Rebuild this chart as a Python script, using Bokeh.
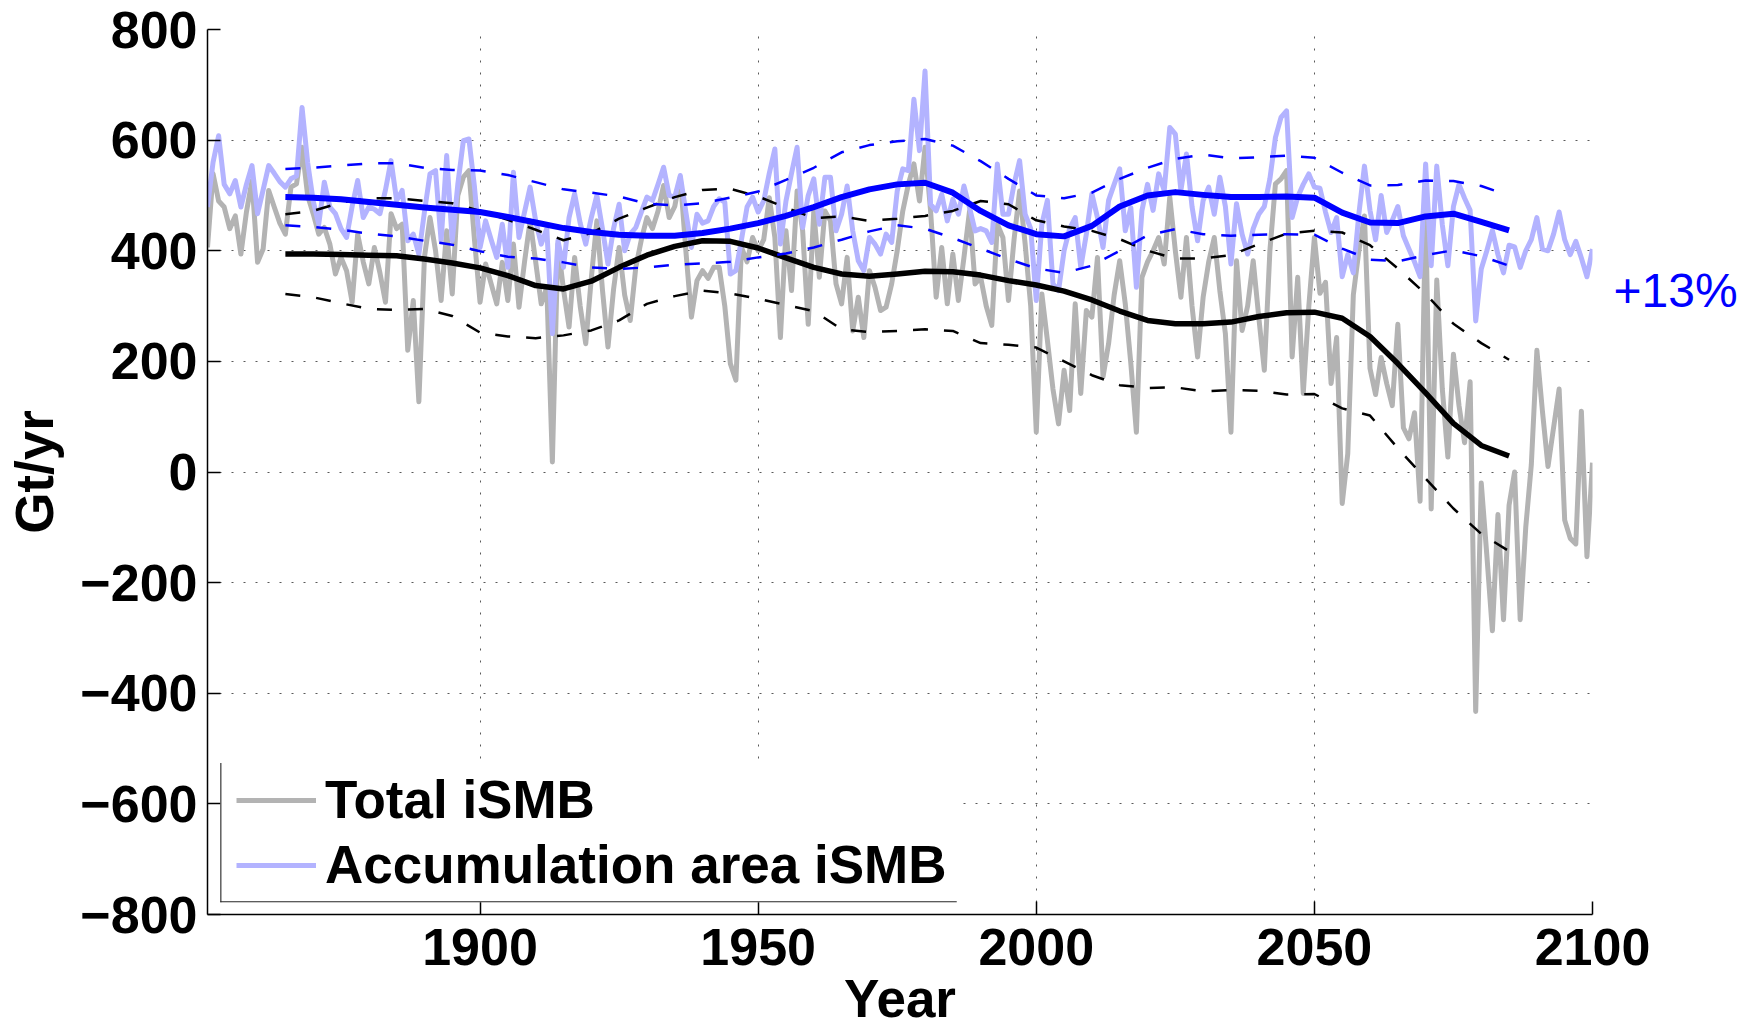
from bokeh.plotting import figure
from bokeh.models import Range1d, FixedTicker, Legend, LegendItem, BoxAnnotation, LinearAxis
from bokeh.embed import file_html
from bokeh.resources import INLINE

# ---------------- data ----------------
years = list(range(1851, 2101))

total_ismb = [
    406, 539, 490, 479, 440, 463, 394, 470, 527, 379,
    403, 509, 479, 450, 430, 515, 521, 587, 500, 467,
    430, 442, 412, 358, 388, 364, 307, 430, 380, 340,
    406, 360, 307, 467, 440, 448, 220, 310, 127, 388,
    460, 400, 310, 436, 322, 500, 533, 545, 420, 307,
    376, 340, 304, 379, 310, 412, 298, 380, 454, 380,
    304, 334, 18, 412, 330, 262, 388, 300, 232, 350,
    454, 330, 226, 330, 406, 320, 274, 370, 420, 460,
    440, 472, 518, 460, 480, 533, 400, 280, 346, 364,
    350, 370, 370, 300, 196, 166, 406, 380, 424, 400,
    420, 496, 424, 243, 436, 328, 508, 436, 267, 472,
    352, 472, 454, 340, 304, 388, 255, 316, 243, 364,
    334, 292, 298, 340, 400, 472, 520, 557, 490, 587,
    472, 316, 406, 304, 394, 310, 388, 472, 340, 352,
    300, 265, 448, 424, 310, 420, 508, 412, 300, 72,
    322, 238, 150, 87, 184, 111, 304, 142, 292, 280,
    388, 172, 232, 320, 382, 304, 196, 72, 352, 380,
    400, 424, 376, 497, 400, 316, 424, 300, 208, 316,
    380, 424, 328, 250, 72, 382, 256, 300, 382, 280,
    184, 400, 521, 530, 545, 208, 352, 142, 300, 424,
    323, 343, 160, 243, -57, 33, 320, 400, 463, 187,
    140, 207, 160, 120, 267, 80, 60, 107, -53, 473,
    -67, 347, 150, 27, 213, 120, 53, 163, -433, -20,
    -150, -287, -77, -267, -60, 0, -267, -100, 13, 220,
    110, 10, 80, 150, -87, -120, -130, 110, -153, 17,
]

accum_ismb = [
    479, 560, 608, 520, 503, 527, 479, 520, 554, 467,
    510, 554, 540, 525, 515, 530, 535, 659, 560, 490,
    448, 524, 479, 467, 440, 424, 480, 527, 460, 479,
    475, 467, 510, 563, 491, 509, 418, 430, 394, 470,
    539, 545, 418, 572, 418, 520, 599, 602, 515, 406,
    454, 420, 388, 448, 370, 542, 424, 470, 515, 454,
    412, 440, 250, 418, 370, 460, 503, 450, 412, 460,
    500, 440, 376, 440, 484, 400, 430, 442, 470, 497,
    491, 520, 551, 500, 497, 536, 470, 406, 466, 450,
    454, 480, 494, 488, 358, 364, 420, 479, 497, 470,
    490, 540, 584, 412, 490, 540, 587, 442, 500, 530,
    448, 533, 533, 436, 466, 517, 436, 382, 364, 424,
    412, 394, 430, 415, 508, 548, 545, 674, 581, 725,
    484, 472, 502, 454, 493, 466, 517, 478, 436, 440,
    436, 415, 557, 466, 466, 520, 563, 466, 440, 310,
    448, 491, 340, 328, 400, 440, 460, 370, 430, 503,
    460, 406, 491, 520, 548, 436, 478, 334, 473, 520,
    473, 539, 509, 623, 611, 509, 575, 480, 418, 491,
    515, 466, 533, 480, 376, 485, 430, 394, 440, 466,
    480, 530, 605, 641, 653, 460, 497, 520, 539, 515,
    513, 470, 433, 460, 353, 393, 360, 467, 553, 473,
    420, 500, 433, 455, 480, 427, 403, 380, 353, 557,
    373, 553, 447, 373, 480, 520, 495, 473, 273, 367,
    400, 437, 393, 360, 410, 407, 370, 400, 420, 460,
    403, 400, 430, 470, 420, 393, 417, 387, 353, 403,
]

smooth_years = list(range(1865, 2086, 5))

total_smooth = [394, 394, 393, 392, 391, 385, 378, 369,
                355, 337, 331, 345, 370, 392, 408, 418, 417, 405,
                387, 370, 358, 354, 358, 363, 362, 356, 346, 338,
                327, 311, 291, 274, 268, 268, 271, 281, 288, 289,
                278, 245, 196, 143, 88, 48, 29]
total_upper = [466, 472, 487, 495, 495, 490, 486, 472,
               456, 438, 419, 432, 458, 478, 497, 510, 512, 498,
               478, 459, 462, 454, 458, 463, 472, 490, 484, 455,
               444, 436, 421, 400, 386, 386, 392, 412, 431, 436,
               433, 410, 368, 322, 268, 233, 203]
total_lower = [322, 316, 305, 295, 293, 295, 282, 252,
               245, 242, 247, 256, 274, 304, 318, 328, 323, 313,
               302, 291, 258, 253, 255, 258, 255, 233, 230, 225,
               200, 175, 157, 152, 153, 146, 148, 147, 140, 141,
               115, 102, 43, -12, -66, -112, -143]
accum_smooth = [497, 496, 493, 488, 483, 478, 474, 470,
                461, 451, 441, 434, 429, 427, 427, 432, 440, 450,
                463, 479, 497, 511, 520, 523, 505, 472, 446, 430,
                426, 445, 480, 500, 506, 501, 497, 497, 498, 496,
                469, 451, 450, 462, 467, 452, 437]
accum_upper = [548, 550, 554, 558, 558, 550, 546, 545,
               537, 524, 511, 505, 498, 485, 482, 486, 496, 507,
               528, 550, 578, 591, 598, 602, 590, 562, 530, 500,
               495, 505, 530, 550, 566, 574, 567, 569, 572, 568,
               541, 518, 519, 527, 526, 517, 500]
accum_lower = [446, 443, 438, 431, 426, 418, 411, 399,
               389, 386, 379, 370, 367, 370, 375, 377, 380, 388,
               395, 406, 420, 435, 446, 440, 423, 404, 385, 368,
               360, 373, 400, 428, 439, 430, 427, 429, 430, 429,
               404, 384, 381, 392, 401, 390, 373]

x_ticks = [1900, 1950, 2000, 2050, 2100]
y_ticks = [-800, -600, -400, -200, 0, 200, 400, 600, 800]
legend_labels = ["Total iSMB", "Accumulation area iSMB"]
change_label = "+13%"
change_level = 329   # where the "+13%" note sits on the value axis

FONT = "Liberation Sans"
GRAY = "#b3b3b3"
LIGHTBLUE = "#b3b3ff"
BLUE = "#0000ff"
DASH = "15 16"

# ---------------- figure ----------------
p = figure(width=1758, height=1032,
           x_range=Range1d(1851, 2100), y_range=Range1d(-800, 800),
           output_backend="svg", toolbar_location=None,
           min_border_left=207, min_border_right=166,
           min_border_top=29, min_border_bottom=118)
p.outline_line_color = None
p.background_fill_color = "white"
p.border_fill_color = "white"

r_tot = p.line(years, total_ismb, line_color=GRAY, line_width=5, line_join="round")
r_acc = p.line(years, accum_ismb, line_color=LIGHTBLUE, line_width=5, line_join="round")

p.line(smooth_years, total_upper, line_color="black", line_width=2.5, line_dash=DASH)
p.line(smooth_years, total_lower, line_color="black", line_width=2.5, line_dash=DASH)
p.line(smooth_years, total_smooth, line_color="black", line_width=5.5, line_join="round")
p.line(smooth_years, accum_upper, line_color=BLUE, line_width=2.5, line_dash=DASH)
p.line(smooth_years, accum_lower, line_color=BLUE, line_width=2.5, line_dash=DASH)
p.line(smooth_years, accum_smooth, line_color=BLUE, line_width=6, line_join="round")

# ---------------- axes ----------------
p.xaxis.ticker = FixedTicker(ticks=x_ticks)
p.yaxis.ticker = FixedTicker(ticks=y_ticks)
p.xaxis.axis_label = "Year"
p.yaxis.axis_label = "Gt/yr"
p.yaxis.major_label_overrides = {t: ("\u2212" + str(-t) if t < 0 else str(t)) for t in y_ticks}

for ax in (p.xaxis[0], p.yaxis[0]):
    ax.axis_line_color = "black"
    ax.axis_line_width = 1.5
    ax.major_tick_in = 13
    ax.major_tick_out = 0
    ax.minor_tick_in = 0
    ax.minor_tick_out = 0
    ax.minor_tick_line_color = None
    ax.major_tick_line_width = 1.5
    ax.major_tick_line_color = "black"
    ax.major_label_text_font = FONT
    ax.major_label_text_font_style = "bold"
    ax.major_label_text_font_size = "52px"
    ax.major_label_text_color = "black"
    ax.axis_label_text_font = FONT
    ax.axis_label_text_font_style = "bold"
    ax.axis_label_text_font_size = "53px"
    ax.axis_label_text_color = "black"

p.xaxis.major_label_standoff = 14
p.xaxis.axis_label_standoff = 1
p.yaxis.major_label_standoff = 10
p.yaxis.axis_label_standoff = 13

p.grid.grid_line_color = "#000000"
p.grid.grid_line_alpha = 0.65
p.grid.grid_line_width = 1
p.grid.grid_line_dash = "2 10"

# right-hand note "+13%" placed through an unlined axis on the right
note_axis = LinearAxis(ticker=FixedTicker(ticks=[change_level]),
                       major_label_overrides={change_level: change_label},
                       axis_line_alpha=0, major_tick_line_alpha=0,
                       minor_tick_line_alpha=0, major_tick_in=0, major_tick_out=0,
                       minor_tick_in=0, minor_tick_out=0,
                       major_label_standoff=21,
                       major_label_text_color=BLUE, major_label_text_font=FONT,
                       major_label_text_font_style="normal",
                       major_label_text_font_size="48px")
p.add_layout(note_axis, "right")

# ---------------- legend ----------------
leg_left, leg_right, leg_top, leg_bottom = 1853.3, 1985.7, -526.0, -778.0
p.add_layout(BoxAnnotation(left=leg_left, right=leg_right, top=leg_top, bottom=leg_bottom,
                           fill_color="white", fill_alpha=1, line_alpha=0))
p.add_layout(BoxAnnotation(left=leg_left, right=leg_left + 0.2, top=leg_top, bottom=leg_bottom,
                           fill_color="#262626", fill_alpha=1, line_alpha=0))
p.add_layout(BoxAnnotation(left=leg_left, right=leg_right, top=leg_bottom + 1.9, bottom=leg_bottom,
                           fill_color="#262626", fill_alpha=1, line_alpha=0))

legend = Legend(items=[LegendItem(label=legend_labels[0], renderers=[r_tot]),
                       LegendItem(label=legend_labels[1], renderers=[r_acc])],
                location=(22, 12), orientation="vertical",
                padding=7, spacing=4, margin=0,
                glyph_width=80, glyph_height=20, label_standoff=9,
                label_text_font=FONT, label_text_font_style="bold",
                label_text_font_size="53px", label_text_color="black",
                border_line_alpha=0, background_fill_alpha=0)
p.add_layout(legend)

open("out.html", "w").write(file_html(p, INLINE))
